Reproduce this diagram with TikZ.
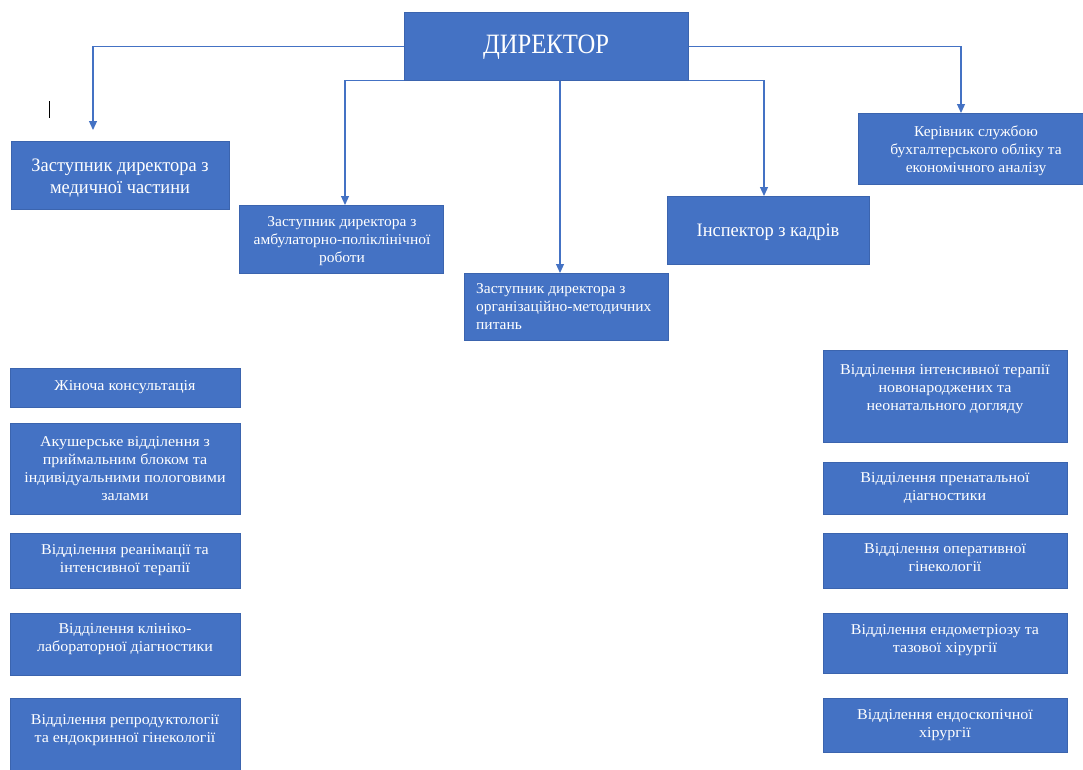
\documentclass[tikz,border=0pt]{standalone}
\usepackage{graphicx}
\usepackage{fontspec}
\setmainfont{Liberation Serif}[FakeStretch=0.88]
\usetikzlibrary{arrows.meta}
\definecolor{boxblue}{HTML}{4472C4}
\definecolor{boxedge}{HTML}{3B64AE}
\newcommand\orgbox[5]{\node[box, minimum width=#4pt-#2pt, minimum height=#5pt-#3pt] (#1) at (#2,#3) {};}
\newcommand\wtc[2]{\scalebox{#1}[1]{\begin{tabular}{@{}c@{}}#2\end{tabular}}}
\newcommand\wtl[2]{\scalebox{#1}[1]{\begin{tabular}{@{}l@{}}#2\end{tabular}}}
\begin{document}
\begin{tikzpicture}[x=1pt,y=-1pt,
  box/.style={fill=boxblue, draw=boxedge, line width=0.8pt, inner sep=0pt, anchor=north west},
  txt/.style={text=white, inner sep=0pt, font=\fontsize{15}{18}\selectfont},
  big/.style={font=\fontsize{19}{22}\selectfont},
  conn/.style={draw=boxblue, line width=1.2pt, -{Triangle[width=8pt,length=9pt]}}]
\useasboundingbox (0,0) rectangle (1083,769);
% boxes
\orgbox{dir}{404}{12}{688}{80}
\orgbox{med}{11}{141}{229}{209}
\orgbox{amb}{239}{205}{443}{273}
\orgbox{org}{464}{273}{668}{340}
\orgbox{insp}{667}{196}{869}{264}
\orgbox{acc}{858}{113}{1094}{184}
\orgbox{zhin}{10}{368}{240}{407}
\orgbox{akush}{10}{423}{240}{514}
\orgbox{reanim}{10}{533}{240}{588}
\orgbox{klin}{10}{613}{240}{675}
\orgbox{repro}{10}{698}{240}{780}
\orgbox{int}{823}{350}{1067}{442}
\orgbox{pren}{823}{462}{1067}{514}
\orgbox{oper}{823}{533}{1067}{588}
\orgbox{endom}{823}{613}{1067}{673}
\orgbox{endosk}{823}{698}{1067}{752}
% texts
\node[txt, font=\fontsize{28}{32}\selectfont] (t-dir) at (546,47) {ДИРЕКТОР};
\node[txt, big] (t-med) at (120,178) {\wtc{1.10}{Заступник директора з\\медичної частини}};
\node[txt] (t-amb) at (342,241) {\wtc{1.174}{Заступник директора з\\амбулаторно-поліклінічної\\роботи}};
\node[txt, anchor=west] (t-org) at (476,308) {\wtl{1.174}{Заступник директора з\\організаційно-методичних\\питань}};
\node[txt, big] (t-insp) at (768,232) {\wtc{1.10}{Інспектор з кадрів}};
\node[txt] (t-acc) at (976,151) {\wtc{1.174}{Керівник службою\\бухгалтерського обліку та\\економічного аналізу}};
\node[txt] (t-zhin) at (125,387) {\wtc{1.212}{Жіноча консультація}};
\node[txt] (t-akush) at (125,470) {\wtc{1.212}{Акушерське відділення з\\приймальним блоком та\\індивідуальними пологовими\\залами}};
\node[txt] (t-reanim) at (125,560) {\wtc{1.212}{Відділення реанімації та\\інтенсивної терапії}};
\node[txt] (t-klin) at (125,639) {\wtc{1.212}{Відділення клініко-\\лабораторної діагностики}};
\node[txt] (t-repro) at (125,730) {\wtc{1.212}{Відділення репродуктології\\та ендокринної гінекології}};
\node[txt] (t-int) at (945,389) {\wtc{1.212}{Відділення інтенсивної терапії\\новонароджених та\\неонатального догляду}};
\node[txt] (t-pren) at (945,488) {\wtc{1.212}{Відділення пренатальної\\діагностики}};
\node[txt] (t-oper) at (945,559) {\wtc{1.212}{Відділення оперативної\\гінекології}};
\node[txt] (t-endom) at (945,640) {\wtc{1.212}{Відділення ендометріозу та\\тазової хірургії}};
\node[txt] (t-endosk) at (945,725) {\wtc{1.212}{Відділення ендоскопічної\\хірургії}};
% connector ends
\coordinate (e-med) at (93,130);
\coordinate (e-amb) at (345,205);
\coordinate (e-org) at (560,273);
\coordinate (e-insp) at (764,196);
\coordinate (e-acc) at (961,113);
\draw[conn] (dir.west) -| (e-med);
\draw[conn] (dir.south west) -| (e-amb);
\draw[conn] (e-org |- dir.south) -- (e-org);
\draw[conn] (dir.south east) -| (e-insp);
\draw[conn] (dir.east) -| (e-acc);
% cursor mark
\draw[black, line width=1pt] (49,101) -- (49,118);
\end{tikzpicture}
\end{document}
